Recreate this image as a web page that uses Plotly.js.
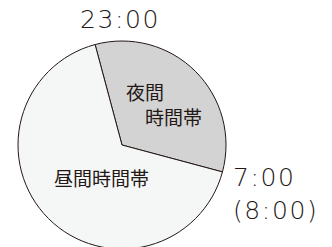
<!DOCTYPE html>
<html>
<head>
<meta charset="utf-8">
<script src="https://cdn.plot.ly/plotly-3.0.1.min.js"></script>
<style>
html,body{margin:0;padding:0;overflow:hidden;background:#fff;}
#chart{width:332px;height:251px;}
</style>
</head>
<body>
<div id="chart"></div>
<script>
const categories = ["夜間時間帯", "昼間時間帯"];
const hours = [8, 16];
const sliceLabels = ["夜間<br>　時間帯", "昼間時間帯"];
const timeLabels = ["23:00", "7:00<br>(8:00)"];

const ink = "#231815";
const jp = "Noto Sans CJK JP, sans-serif";
const num = "DejaVu Sans, sans-serif";

const trace = {
  type: "pie",
  labels: categories,
  values: hours,
  sort: false,
  direction: "clockwise",
  rotation: -15,
  textinfo: "none",
  hoverinfo: "none",
  marker: {colors: ["#d3d3d3", "#f5f6f6"], line: {color: ink, width: 1}},
  domain: {x: [0, 1], y: [0, 1]},
  showlegend: false
};

const layout = {
  width: 332, height: 251,
  margin: {l: 18, r: 106, t: 41, b: 2, pad: 0},
  paper_bgcolor: "#fff",
  showlegend: false,
  annotations: [
    {text: sliceLabels[0], xref: "paper", yref: "paper", x: 0.512, y: 0.695, xanchor: "left", yanchor: "middle", align: "left", showarrow: false, font: {family: jp, size: 19, color: ink}},
    {text: sliceLabels[1], xref: "paper", yref: "paper", x: 0.163, y: 0.345, xanchor: "left", yanchor: "middle", showarrow: false, font: {family: jp, size: 19, color: ink}},
    {text: timeLabels[0], xref: "paper", yref: "paper", x: 0.31, y: 1.103, xanchor: "left", yanchor: "middle", showarrow: false, font: {family: num, size: 25, color: ink, weight: 300}},
    {text: timeLabels[1], xref: "paper", yref: "paper", x: 1.024, y: 0.264, xanchor: "left", yanchor: "middle", align: "left", showarrow: false, font: {family: num, size: 25, color: ink, weight: 300}}
  ]
};

Plotly.newPlot("chart", [trace], layout, {displayModeBar: false, staticPlot: true}).then(function () {
  document.querySelectorAll(".annotation-text").forEach(function (t, i) {
    if (i >= 2) t.style.letterSpacing = "1.6px";
  });
});
</script>
</body>
</html>
